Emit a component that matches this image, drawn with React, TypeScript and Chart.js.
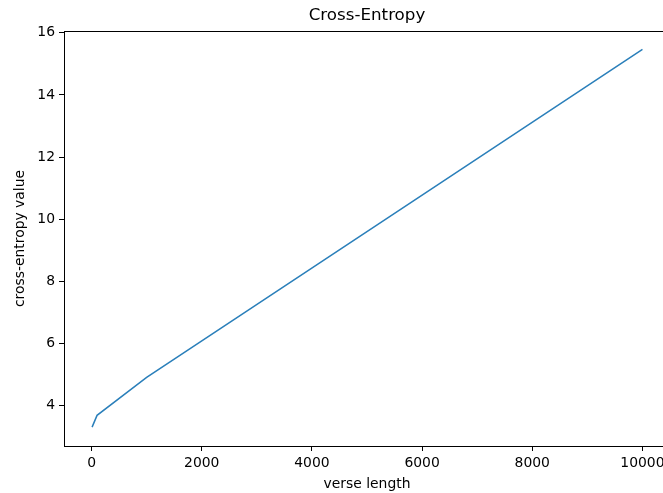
import React, { useEffect, useRef } from "react";
import { Chart, registerables } from "chart.js";

Chart.register(...registerables);

const verseLengths = [10, 100, 1000, 10000];
const crossEntropy = [3.3, 3.68, 4.9, 15.47];
const xTicks = [0, 2000, 4000, 6000, 8000, 10000];
const yTicks = [4, 6, 8, 10, 12, 14, 16];

const FONT = "'DejaVu Sans', sans-serif";

const framePlugin = {
  id: "frame",
  afterDraw(chart: any) {
    const { ctx, chartArea } = chart;
    ctx.save();
    ctx.strokeStyle = "#000";
    ctx.lineWidth = 1;
    ctx.strokeRect(
      Math.round(chartArea.left) + 0.5,
      Math.round(chartArea.top) + 0.5,
      Math.round(chartArea.right - chartArea.left),
      Math.round(chartArea.bottom - chartArea.top)
    );
    ctx.restore();
  },
};

export default function App() {
  const ref = useRef<HTMLCanvasElement>(null);
  useEffect(() => {
    if (!ref.current) return;
    const chart = new Chart(ref.current, {
      type: "line",
      data: {
        datasets: [
          {
            data: verseLengths.map((x, i) => ({ x, y: crossEntropy[i] })),
            borderColor: "#2a7fba",
            borderWidth: 1.5,
            pointRadius: 0,
            fill: false,
            tension: 0,
          },
        ],
      },
      options: {
        animation: false,
        responsive: false,
        devicePixelRatio: 1,
        layout: { padding: 0 },
        plugins: {
          legend: { display: false },
          tooltip: { enabled: false },
          title: {
            display: true,
            text: "Cross-Entropy",
            fullSize: false,
            color: "#000",
            font: { family: FONT, size: 16.7, weight: "normal" },
            padding: { top: 6, bottom: 5 },
          },
        },
        scales: {
          x: {
            type: "linear",
            min: -500,
            max: 10500,
            afterBuildTicks: (s: any) => {
              s.ticks = xTicks.map((v) => ({ value: v }));
            },
            afterFit: (s: any) => {
              s.height = 47;
            },
            ticks: {
              color: "#000",
              padding: 4,
              maxRotation: 0,
              font: { family: FONT, size: 13.9 },
              callback: (v: any) => String(v),
            },
            grid: {
              drawOnChartArea: false,
              drawTicks: true,
              tickLength: 5,
              tickColor: "#000",
              tickWidth: 1,
            },
            border: { display: true, color: "#000", width: 1 },
            title: {
              display: true,
              text: "verse length",
              color: "#000",
              font: { family: FONT, size: 13.9 },
              padding: { top: 0, bottom: 0 },
            },
          },
          y: {
            type: "linear",
            min: 2.6925,
            max: 16.0575,
            afterBuildTicks: (s: any) => {
              s.ticks = yTicks.map((v) => ({ value: v }));
            },
            afterFit: (s: any) => {
              s.width = 64;
            },
            ticks: {
              color: "#000",
              padding: 4,
              font: { family: FONT, size: 13.9 },
              callback: (v: any) => String(v),
            },
            grid: {
              drawOnChartArea: false,
              drawTicks: true,
              tickLength: 5,
              tickColor: "#000",
              tickWidth: 1,
            },
            border: { display: true, color: "#000", width: 1 },
            title: {
              display: true,
              text: "cross-entropy value",
              color: "#000",
              font: { family: FONT, size: 13.9 },
              padding: { top: 12, bottom: 0 },
            },
          },
        },
      },
      plugins: [framePlugin],
    });
    return () => chart.destroy();
  }, []);

  return (
    <div
      style={{
        position: "absolute",
        left: 0,
        top: 0,
        width: 663,
        height: 493,
        overflow: "hidden",
        background: "#fff",
      }}
    >
      <canvas ref={ref} width={670} height={493} style={{ width: 670, height: 493, display: "block" }} />
    </div>
  );
}
